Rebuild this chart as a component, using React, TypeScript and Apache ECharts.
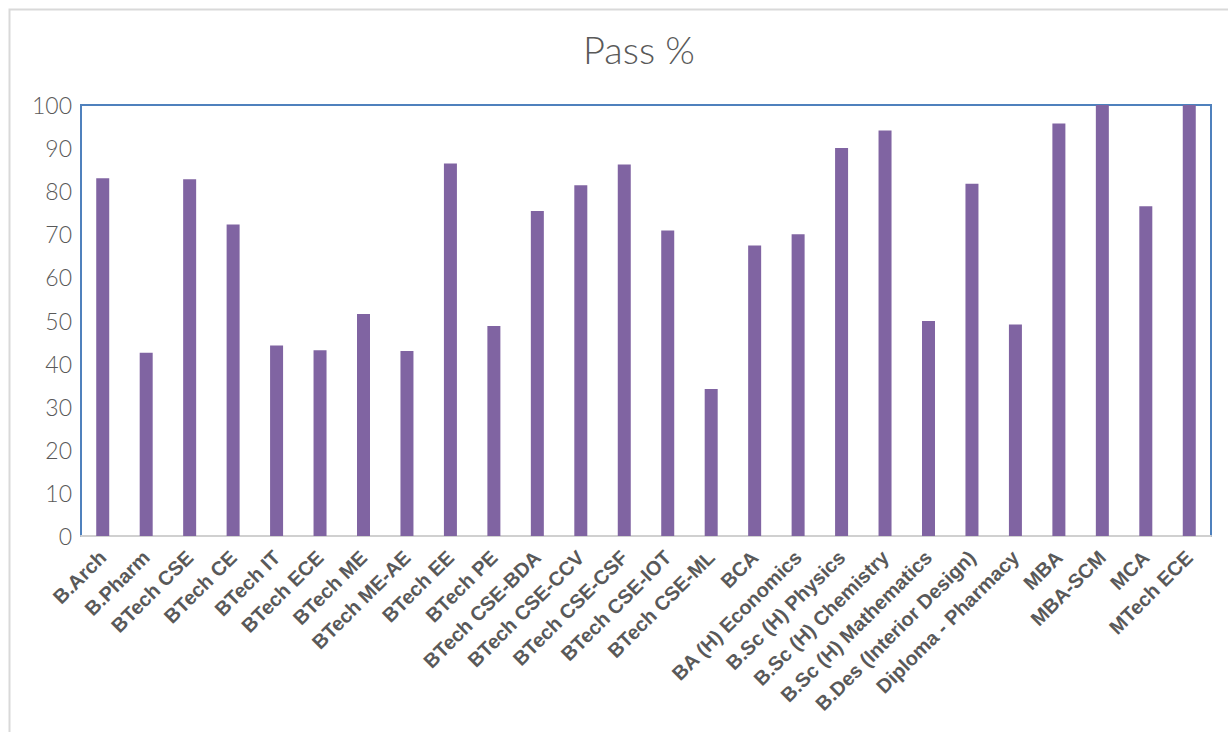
import React, { useEffect, useRef } from "react";
import * as echarts from "echarts";

const categories: string[] = [
  "B.Arch", "B.Pharm", "BTech CSE", "BTech CE", "BTech IT", "BTech ECE",
  "BTech ME", "BTech ME-AE", "BTech EE", "BTech PE", "BTech CSE-BDA",
  "BTech CSE-CCV", "BTech CSE-CSF", "BTech CSE-IOT", "BTech CSE-ML", "BCA",
  "BA (H) Economics", "B.Sc (H) Physics", "B.Sc (H) Chemistry",
  "B.Sc (H) Mathematics", "B.Des (Interior Design)", "Diploma - Pharmacy",
  "MBA", "MBA-SCM", "MCA", "MTech ECE",
];

const passPercent: number[] = [
  83.0, 42.5, 82.8, 72.3, 44.2, 43.1, 51.5, 42.9, 86.4, 48.7, 75.4, 81.4,
  86.2, 70.9, 34.1, 67.4, 70.0, 90.0, 94.1, 49.9, 81.7, 49.1, 95.7, 100,
  76.5, 100,
];

const yTicks = { min: 0, max: 100, interval: 10 };
const titleText = "Pass %";

export default function App() {
  const ref = useRef<HTMLDivElement>(null);

  useEffect(() => {
    if (!ref.current) return;
    const chart = echarts.init(ref.current, undefined, { renderer: "svg" });
    chart.setOption({
      animation: false,
      backgroundColor: "#ffffff",
      title: {
        text: titleText,
        left: 634,
        top: 25,
        textAlign: "center",
        textStyle: {
          fontFamily: "Lato, 'Open Sans', sans-serif",
          fontWeight: 300,
          fontSize: 38,
          color: "#595959",
        },
      },
      graphic: [
        {
          type: "rect",
          shape: { x: 9.5, y: 9.5, width: 1240, height: 760 },
          style: { fill: "none", stroke: "#d9d9d9", lineWidth: 2 },
          silent: true,
          z: -10,
        },
      ],
      grid: {
        left: 81,
        right: 17,
        top: 105,
        bottom: 196,
        show: true,
        borderColor: "#4F81BD",
        borderWidth: 2,
        containLabel: false,
      },
      xAxis: {
        type: "category",
        data: categories,
        axisLine: { show: true, lineStyle: { color: "#d0d0d0", width: 2 } },
        axisTick: { show: false },
        axisLabel: {
          rotate: 45,
          interval: 0,
          margin: 18,
          fontFamily: "Arial, 'Liberation Sans', sans-serif",
          fontWeight: "bold",
          fontSize: 20,
          color: "#595959",
        },
        splitLine: { show: false },
      },
      yAxis: {
        type: "value",
        min: yTicks.min,
        max: yTicks.max,
        interval: yTicks.interval,
        axisLine: { show: false },
        axisTick: { show: false },
        splitLine: { show: false },
        axisLabel: {
          margin: 9,
          fontFamily: "Lato, 'Open Sans', sans-serif",
          fontWeight: 300,
          fontSize: 23,
          color: "#595959",
        },
      },
      series: [
        {
          type: "bar",
          name: titleText,
          data: passPercent,
          barWidth: 13,
          itemStyle: { color: "#8064A2" },
        },
      ],
    });
    return () => chart.dispose();
  }, []);

  return (
    <div
      ref={ref}
      style={{ position: "fixed", left: 0, top: 0, width: 1228, height: 732 }}
    />
  );
}
